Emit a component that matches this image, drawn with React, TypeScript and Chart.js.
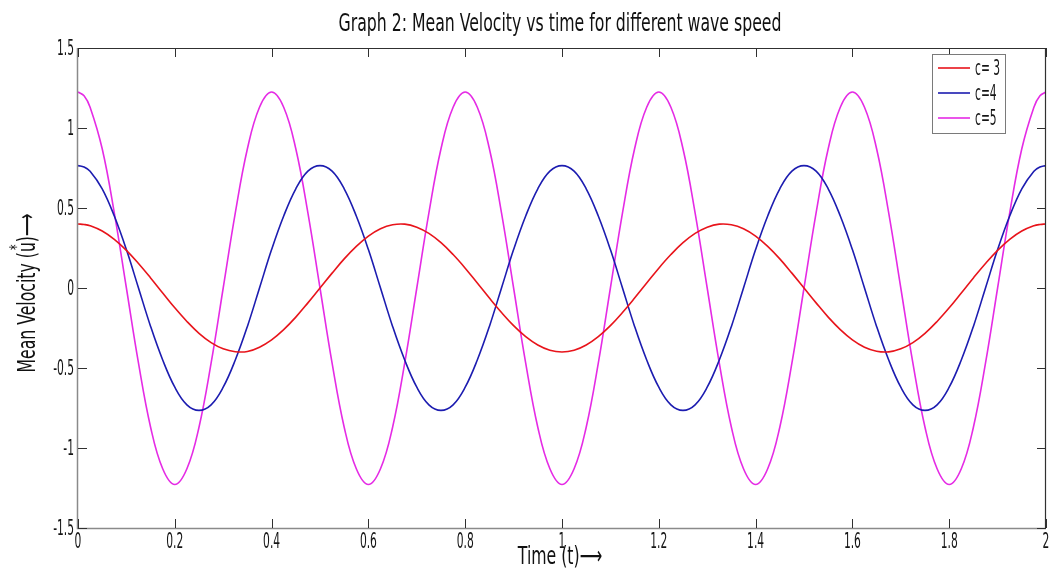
import React, { useEffect, useRef } from "react";
import { Chart, registerables } from "chart.js";

Chart.register(...registerables);

// ---- data ----
const T = [
  0, 0.0125, 0.025, 0.05, 0.075, 0.1, 0.125, 0.15, 0.175, 0.2, 0.225, 0.25, 0.275, 0.3, 0.325, 0.35, 0.375,
  0.4, 0.425, 0.45, 0.475, 0.5, 0.525, 0.55, 0.575, 0.6, 0.625, 0.65, 0.675, 0.7, 0.725, 0.75, 0.775,
  0.8, 0.825, 0.85, 0.875, 0.9, 0.925, 0.95, 0.975, 1, 1.025, 1.05, 1.075, 1.1, 1.125, 1.15, 1.175,
  1.2, 1.225, 1.25, 1.275, 1.3, 1.325, 1.35, 1.375, 1.4, 1.425, 1.45, 1.475, 1.5, 1.525, 1.55, 1.575,
  1.6, 1.625, 1.65, 1.675, 1.7, 1.725, 1.75, 1.775, 1.8, 1.825, 1.85, 1.875, 1.9, 1.925, 1.95, 1.975, 1.9875, 2,
];

// c = 3 (red)
const C3 = [
  0.4, 0.397, 0.389, 0.356, 0.304, 0.235, 0.153, 0.063, -0.031, -0.124, -0.209, -0.283, -0.341, -0.38, -0.398, -0.397, -0.37,
  -0.324, -0.26, -0.182, -0.093, 0.0, 0.093, 0.182, 0.26, 0.324, 0.37, 0.395, 0.399, 0.38, 0.341, 0.283, 0.209,
  0.124, 0.031, -0.063, -0.153, -0.235, -0.304, -0.356, -0.389, -0.4, -0.389, -0.356, -0.304, -0.235, -0.153, -0.063, 0.031,
  0.124, 0.209, 0.283, 0.341, 0.38, 0.399, 0.395, 0.37, 0.324, 0.26, 0.182, 0.093, 0.0, -0.093, -0.182, -0.26,
  -0.324, -0.37, -0.395, -0.399, -0.38, -0.341, -0.283, -0.209, -0.124, -0.031, 0.063, 0.153, 0.235, 0.304, 0.356, 0.389, 0.397, 0.4,
];

// c = 4 (blue)
const C4 = [
  0.765, 0.756, 0.73, 0.62, 0.45, 0.24, 0.0, -0.24, -0.45, -0.62, -0.73, -0.765, -0.73, -0.62, -0.45, -0.24, 0.0,
  0.24, 0.45, 0.62, 0.73, 0.765, 0.73, 0.62, 0.45, 0.24, 0.0, -0.24, -0.45, -0.62, -0.73, -0.765, -0.73,
  -0.62, -0.45, -0.24, 0.0, 0.24, 0.45, 0.62, 0.73, 0.765, 0.73, 0.62, 0.45, 0.24, 0.0, -0.24, -0.45,
  -0.62, -0.73, -0.765, -0.73, -0.62, -0.45, -0.24, 0.0, 0.24, 0.45, 0.62, 0.73, 0.765, 0.73, 0.62, 0.45,
  0.24, 0.0, -0.24, -0.45, -0.62, -0.73, -0.765, -0.73, -0.62, -0.45, -0.24, 0.0, 0.24, 0.45, 0.62, 0.73, 0.756, 0.765,
];

// c = 5 (magenta)
const C5 = [
  1.225, 1.201, 1.13, 0.87, 0.47, 0.0, -0.47, -0.87, -1.13, -1.228, -1.13, -0.87, -0.47, 0.0, 0.47, 0.87, 1.13,
  1.225, 1.13, 0.87, 0.47, 0.0, -0.47, -0.87, -1.13, -1.228, -1.13, -0.87, -0.47, 0.0, 0.47, 0.87, 1.13,
  1.225, 1.13, 0.87, 0.47, 0.0, -0.47, -0.87, -1.13, -1.228, -1.13, -0.87, -0.47, 0.0, 0.47, 0.87, 1.13,
  1.225, 1.13, 0.87, 0.47, 0.0, -0.47, -0.87, -1.13, -1.228, -1.13, -0.87, -0.47, 0.0, 0.47, 0.87, 1.13,
  1.225, 1.13, 0.87, 0.47, 0.0, -0.47, -0.87, -1.13, -1.228, -1.13, -0.87, -0.47, 0.0, 0.47, 0.87, 1.13, 1.201, 1.225,
];

const SERIES_LABELS = ["c= 3", "c=4", "c=5"];
const SERIES_COLORS = ["#e8141b", "#1c1cb0", "#e52be5"];

const X_TICKS = [0, 0.2, 0.4, 0.6, 0.8, 1, 1.2, 1.4, 1.6, 1.8, 2];
const X_TICK_LABELS = ["0", "0.2", "0.4", "0.6", "0.8", "1", "1.2", "1.4", "1.6", "1.8", "2"];
const Y_TICKS = [-1.5, -1, -0.5, 0, 0.5, 1, 1.5];
const Y_TICK_LABELS = ["-1.5", "-1", "-0.5", "0", "0.5", "1", "1.5"];

const TITLE = "Graph 2: Mean Velocity vs time for different wave speed";
const X_TITLE = "Time (t)\u27F6";
const Y_TITLE_A = "Mean Velocity (";
const Y_TITLE_U = "u";
const Y_TITLE_B = ")\u27F6";
const Y_TITLE_STAR = "*";

const FONT =
  '"Liberation Sans Narrow", "Arial Narrow", "DejaVu Sans Condensed", "Liberation Sans", "DejaVu Sans", sans-serif';

const decorPlugin = {
  id: "decor",
  afterDraw(chart: any) {
    const { ctx, chartArea: a, scales } = chart;
    const xs = scales.x;
    const ys = scales.y;
    ctx.save();

    // horizontal compression so text looks like the condensed original
    ctx.font = `25px ${FONT}`;
    const k = Math.min(1, 443 / ctx.measureText(TITLE).width);
    ctx.font = `21px ${FONT}`;
    const kt = Math.min(1, 17 / ctx.measureText("0.2").width);

    const text = (
      s: string,
      x: number,
      y: number,
      size: number,
      align: CanvasTextAlign,
      kk: number,
      color = "#151515"
    ) => {
      ctx.save();
      ctx.font = `${size}px ${FONT}`;
      ctx.fillStyle = color;
      ctx.translate(x, y);
      ctx.scale(kk, 1);
      ctx.textAlign = align;
      ctx.textBaseline = "alphabetic";
      ctx.fillText(s, 0, 0);
      ctx.restore();
    };

    // box
    ctx.lineWidth = 1.5;
    ctx.strokeStyle = "#8a8a8a";
    ctx.beginPath();
    ctx.moveTo(a.left - 0.5, a.top);
    ctx.lineTo(a.left - 0.5, a.bottom + 0.5);
    ctx.lineTo(a.right, a.bottom + 0.5);
    ctx.stroke();
    ctx.strokeStyle = "#303030";
    ctx.lineWidth = 1.2;
    ctx.beginPath();
    ctx.moveTo(a.left, a.top + 0.5);
    ctx.lineTo(a.right - 0.5, a.top + 0.5);
    ctx.lineTo(a.right - 0.5, a.bottom);
    ctx.stroke();

    // inward ticks
    const TL = 9;
    ctx.strokeStyle = "#303030";
    ctx.lineWidth = 1;
    ctx.beginPath();
    X_TICKS.forEach((v) => {
      const px = Math.round(xs.getPixelForValue(v)) + 0.5;
      ctx.moveTo(px, a.bottom);
      ctx.lineTo(px, a.bottom - TL);
      ctx.moveTo(px, a.top);
      ctx.lineTo(px, a.top + TL);
    });
    Y_TICKS.forEach((v) => {
      const py = Math.round(ys.getPixelForValue(v)) + 0.5;
      ctx.moveTo(a.left, py);
      ctx.lineTo(a.left + TL, py);
      ctx.moveTo(a.right, py);
      ctx.lineTo(a.right - TL, py);
    });
    ctx.stroke();

    // tick labels
    X_TICKS.forEach((v, i) => {
      text(X_TICK_LABELS[i], xs.getPixelForValue(v), a.bottom + 20, 21, "center", kt);
    });
    Y_TICKS.forEach((v, i) => {
      text(Y_TICK_LABELS[i], a.left - 4, ys.getPixelForValue(v) + 7, 21, "right", kt);
    });

    // title and x title
    text(TITLE, 560, 31, 25, "center", k, "#111");
    text(X_TITLE, 560, 564, 25, "center", k, "#111");

    // y title (rotated)
    ctx.save();
    ctx.translate(35, 293);
    ctx.rotate(-Math.PI / 2);
    ctx.font = `25px ${FONT}`;
    const wA = ctx.measureText(Y_TITLE_A).width;
    const wU = ctx.measureText(Y_TITLE_U).width;
    const wB = ctx.measureText(Y_TITLE_B).width;
    const W = (wA + wU + wB) * k;
    const x0 = -W / 2;
    ctx.fillStyle = "#111";
    ctx.textBaseline = "alphabetic";
    ctx.textAlign = "left";
    const seg = (s: string, x: number, y: number, size: number) => {
      ctx.save();
      ctx.font = `${size}px ${FONT}`;
      ctx.translate(x, y);
      ctx.scale(k, 1);
      ctx.fillText(s, 0, 0);
      ctx.restore();
    };
    seg(Y_TITLE_A, x0, 0, 25);
    seg(Y_TITLE_U, x0 + wA * k, 0, 25);
    seg(Y_TITLE_B, x0 + (wA + wU) * k, 0, 25);
    ctx.save();
    ctx.font = `18px ${FONT}`;
    const wS = ctx.measureText(Y_TITLE_STAR).width * k;
    ctx.restore();
    seg(Y_TITLE_STAR, x0 + (wA + wU / 2) * k - wS / 2, -13, 18);
    ctx.restore();

    // legend
    const lx = 932, ly = 54, lw = 73, lh = 79;
    ctx.fillStyle = "#ffffff";
    ctx.fillRect(lx, ly, lw, lh);
    ctx.strokeStyle = "#7a7a7a";
    ctx.lineWidth = 1;
    ctx.strokeRect(lx + 0.5, ly + 0.5, lw, lh);
    const rows = [68, 93, 118];
    SERIES_LABELS.forEach((lab, i) => {
      ctx.strokeStyle = SERIES_COLORS[i];
      ctx.lineWidth = 1.6;
      ctx.beginPath();
      ctx.moveTo(938, rows[i]);
      ctx.lineTo(970, rows[i]);
      ctx.stroke();
      text(lab, 975, rows[i] + 7, 21, "left", kt, "#151515");
    });

    ctx.restore();
  },
};

export default function App() {
  const ref = useRef<HTMLCanvasElement | null>(null);

  useEffect(() => {
    document.body.style.margin = "0";
    const canvas = ref.current;
    if (!canvas) return;
    const series = [C3, C4, C5];
    const chart = new Chart(canvas, {
      type: "line",
      data: {
        datasets: series.map((vals, i) => ({
          label: SERIES_LABELS[i],
          data: T.map((t, j) => ({ x: t, y: vals[j] })),
          borderColor: SERIES_COLORS[i],
          backgroundColor: SERIES_COLORS[i],
          borderWidth: 1.6,
          pointRadius: 0,
          fill: false,
          tension: 0.4,
        })),
      },
      options: {
        responsive: false,
        animation: false,
        layout: { padding: { left: 78, right: 4, top: 48, bottom: 43 } },
        plugins: {
          legend: { display: false },
          title: { display: false },
          tooltip: { enabled: false },
        },
        scales: {
          x: { type: "linear", min: 0, max: 2, display: false },
          y: { type: "linear", min: -1.5, max: 1.5, display: false },
        },
      },
      plugins: [decorPlugin],
    });
    return () => chart.destroy();
  }, []);

  return (
    <div style={{ width: 1050, height: 571, background: "#fff" }}>
      <canvas ref={ref} width={1050} height={571} style={{ display: "block", width: 1050, height: 571 }} />
    </div>
  );
}
